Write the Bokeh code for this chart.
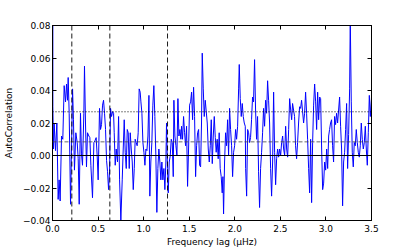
from bokeh.plotting import figure
from bokeh.models import Range1d, FixedTicker, CustomJSTickFormatter, LinearAxis, Span
from bokeh.embed import file_html
from bokeh.resources import INLINE

lag = [0.0, 0.004, 0.011, 0.018, 0.033, 0.048, 0.062, 0.073, 0.084, 0.099, 0.113, 0.128, 0.143, 0.154, 0.165,
       0.172, 0.183, 0.198, 0.220, 0.230, 0.241, 0.256, 0.271, 0.282, 0.293, 0.307, 0.318, 0.329, 0.344,
       0.351, 0.362, 0.373, 0.384, 0.399, 0.410, 0.421, 0.439, 0.454, 0.465, 0.479, 0.490, 0.501, 0.516,
       0.527, 0.538, 0.549, 0.560, 0.571, 0.582, 0.593, 0.604, 0.615, 0.626, 0.637, 0.648, 0.659, 0.670,
       0.677, 0.688, 0.699, 0.713,
       0.725, 0.736, 0.750, 0.765, 0.776, 0.787, 0.798, 0.809, 0.820, 0.831, 0.842, 0.853, 0.864, 0.875,
       0.886, 0.897, 0.907, 0.918, 0.929, 0.940, 0.951, 0.962, 0.970, 0.981, 0.992, 1.003, 1.014, 1.025,
       1.036, 1.047, 1.058, 1.068, 1.079, 1.090, 1.101, 1.112, 1.123, 1.134, 1.145, 1.156, 1.167, 1.178,
       1.189, 1.200, 1.211, 1.222, 1.233, 1.244, 1.251, 1.262, 1.270, 1.281, 1.292, 1.303, 1.314, 1.325,
       1.332, 1.343, 1.354, 1.365, 1.376, 1.387, 1.398, 1.409,
       1.416, 1.427, 1.438, 1.449, 1.460, 1.471, 1.482, 1.493, 1.504, 1.515, 1.526, 1.537, 1.548, 1.559,
       1.570, 1.581, 1.592, 1.603, 1.614, 1.625, 1.635, 1.643, 1.654, 1.665, 1.676, 1.687, 1.698, 1.709,
       1.720, 1.731, 1.742, 1.753, 1.764, 1.775, 1.786, 1.796, 1.807, 1.818, 1.829, 1.840, 1.851, 1.862,
       1.870, 1.877, 1.888, 1.899, 1.910, 1.921, 1.932, 1.943, 1.954, 1.965, 1.976, 1.987, 1.998, 2.009,
       2.020, 2.031, 2.042, 2.049, 2.060, 2.071, 2.082, 2.093, 2.104, 2.115,
       2.119, 2.130, 2.141, 2.152, 2.162, 2.173, 2.184, 2.195, 2.206, 2.217, 2.228, 2.239, 2.250, 2.261,
       2.272, 2.283, 2.294, 2.305, 2.316, 2.327, 2.338, 2.349, 2.360, 2.371, 2.382, 2.393, 2.404, 2.415,
       2.426, 2.437, 2.448, 2.459, 2.470, 2.481, 2.492, 2.503, 2.514, 2.525, 2.536, 2.547, 2.558, 2.569,
       2.580, 2.591, 2.602, 2.613, 2.624, 2.634, 2.645, 2.656, 2.667, 2.678, 2.689, 2.700, 2.711, 2.722,
       2.733, 2.744, 2.755, 2.766, 2.777, 2.788, 2.799, 2.810, 2.821,
       2.832, 2.843, 2.854, 2.865, 2.876, 2.887, 2.898, 2.909, 2.920, 2.931, 2.942, 2.953, 2.964, 2.975,
       2.986, 2.997, 3.008, 3.019, 3.030, 3.040, 3.051, 3.062, 3.073, 3.084, 3.095, 3.106, 3.117, 3.128,
       3.139, 3.150, 3.161, 3.172, 3.183, 3.194, 3.205, 3.216, 3.227, 3.238, 3.249, 3.260, 3.267, 3.278,
       3.289, 3.300, 3.311, 3.322, 3.333, 3.344, 3.355, 3.366, 3.377, 3.388, 3.399, 3.410, 3.421, 3.432,
       3.443, 3.454, 3.465, 3.476, 3.487, 3.500]

acf = [1.0, 0.030, 0.004, 0.020, 0.003, 0.020, -0.027, -0.015, -0.028, 0.012, 0.010, 0.043, 0.033, 0.044, 0.034,
       0.048, 0.026, -0.030, 0.041, 0.022, -0.009, 0.014, 0.008, -0.002, -0.030, 0.026, 0.001, -0.006, 0.026,
       0.055, 0.020, -0.007, 0.014, 0.012, 0.011, -0.006, -0.026, 0.008, 0.009, 0.011, 0.000, -0.015, 0.029,
       0.016, 0.019, 0.031, 0.034, 0.026, 0.016, -0.003, -0.010, -0.021, -0.010, 0.029, 0.024, 0.027, 0.026,
       0.014, -0.006, 0.004, -0.004,
       0.024, -0.015, -0.040, -0.015, 0.004, 0.022, 0.002, -0.008, 0.016, 0.014, -0.008, 0.014, 0.004, -0.004,
       -0.021, -0.008, 0.010, 0.008, 0.006, 0.014, 0.041, 0.039, 0.033, 0.026, 0.008, 0.002, -0.006, 0.004,
       0.003, 0.012, 0.037, -0.025, -0.004, 0.008, 0.031, 0.043, 0.024, 0.000, -0.035, -0.008, 0.004, -0.004,
       -0.015, -0.004, -0.015, -0.008, -0.021, -0.004, 0.020, -0.008, -0.023, -0.004, 0.000, 0.010, 0.008, -0.013,
       0.034, 0.012, 0.006, 0.000, 0.035, 0.012, 0.016, 0.010,
       0.018, 0.010, 0.024, 0.014, 0.006, 0.018, -0.019, 0.004, 0.031, 0.033, 0.039, 0.022, 0.042, 0.024,
       -0.013, 0.006, 0.014, 0.016, -0.006, -0.007, 0.020, 0.063, 0.041, 0.024, 0.034, 0.027, 0.020, 0.004,
       -0.004, 0.006, 0.022, -0.005, 0.012, 0.024, 0.011, 0.002, 0.010, -0.002, 0.014, -0.008, -0.013, -0.023,
       -0.013, -0.036, -0.004, 0.014, 0.006, 0.022, 0.000, 0.029, 0.016, 0.006, -0.013, 0.002, 0.006, 0.016,
       0.010, 0.018, 0.041, 0.056, 0.035, 0.024, 0.032, 0.024, 0.020, 0.018,
       -0.008, -0.025, 0.016, 0.014, 0.008, 0.011, 0.022, 0.036, 0.033, 0.059, 0.028, 0.010, 0.024, -0.010,
       -0.032, -0.008, 0.002, 0.014, 0.029, 0.018, 0.034, 0.026, 0.046, 0.034, 0.020, -0.008, -0.025, -0.004,
       0.039, 0.002, -0.018, -0.002, 0.004, -0.001, 0.004, 0.000, 0.008, 0.012, 0.004, 0.000, 0.018, 0.004,
       -0.001, 0.016, 0.035, 0.028, 0.022, 0.032, 0.028, 0.024, 0.006, -0.002, 0.008, 0.020, 0.030, 0.029,
       0.034, 0.027, 0.020, 0.026, 0.039, 0.026, 0.010, -0.008, -0.023,
       0.010, -0.029, 0.008, 0.031, 0.044, 0.033, 0.016, 0.039, 0.022, 0.036, 0.035, 0.004, -0.021, -0.017,
       -0.004, -0.009, 0.004, -0.008, 0.012, 0.016, 0.020, 0.022, 0.006, -0.004, 0.024, 0.019, 0.026, 0.020,
       0.028, 0.036, 0.018, 0.004, -0.031, -0.004, 0.002, 0.016, 0.032, -0.008, 0.013, 0.041, 0.085, 0.033,
       0.002, -0.007, 0.008, 0.006, 0.016, 0.008, 0.002, -0.001, 0.006, 0.020, 0.010, 0.004, 0.008, 0.018,
       0.004, -0.006, 0.014, 0.037, 0.024, 0.036]

x_ticks = [0.0, 0.5, 1.0, 1.5, 2.0, 2.5, 3.0, 3.5]
y_ticks = [-0.04, -0.02, 0.0, 0.02, 0.04, 0.06, 0.08]
v_lines = [0.212, 0.629, 1.262]
threshold_dotted = 0.0269
threshold_dashed = 0.0084

FONT = "DejaVu Sans"
FS = "9px"

p = figure(width=395, height=244, output_backend="svg", toolbar_location=None,
           x_range=Range1d(0, 3.5), y_range=Range1d(-0.04, 0.08),
           min_border_left=43, min_border_right=25, min_border_top=25, min_border_bottom=24,
           frame_width=319, frame_height=195)
p.background_fill_color = "white"
p.border_fill_color = "white"
p.outline_line_color = "black"
p.outline_line_width = 1
p.xgrid.visible = False
p.ygrid.visible = False

p.line(lag, acf, line_color="blue", line_width=1)

p.add_layout(Span(location=0.0, dimension="width", line_color="black", line_width=1))
p.add_layout(Span(location=threshold_dotted, dimension="width", line_color="black",
                  line_width=1, line_dash="1 2"))
p.add_layout(Span(location=threshold_dashed, dimension="width", line_color="#444444",
                  line_width=0.8, line_dash="4 2"))
for v in v_lines:
    p.add_layout(Span(location=v, dimension="height", line_color="black",
                      line_width=0.9, line_dash="5 3"))

def style(ax, ticks):
    ax.ticker = FixedTicker(ticks=ticks)
    ax.axis_line_color = "black"
    ax.major_tick_line_color = "black"
    ax.major_tick_in = 4
    ax.major_tick_out = 0
    ax.minor_tick_in = 0
    ax.minor_tick_out = 0
    ax.major_label_text_font = FONT
    ax.major_label_text_font_size = FS
    ax.axis_label_text_font = FONT
    ax.axis_label_text_font_size = FS
    ax.axis_label_text_font_style = "normal"
    ax.axis_label_text_color = "black"
    ax.major_label_text_color = "black"

style(p.xaxis[0], x_ticks)
style(p.yaxis[0], y_ticks)
p.xaxis[0].formatter = CustomJSTickFormatter(code="return tick.toFixed(1);")
p.yaxis[0].formatter = CustomJSTickFormatter(
    code="return (tick < -1e-9 ? '\u2212' : '') + Math.abs(tick).toFixed(2);")
p.xaxis[0].axis_label = "Frequency lag (\u03bcHz)"
p.yaxis[0].axis_label = "AutoCorrelation"
p.xaxis[0].major_label_standoff = 4
p.xaxis[0].axis_label_standoff = 2
p.yaxis[0].major_label_standoff = 2
p.yaxis[0].axis_label_standoff = 6

top = LinearAxis()
right = LinearAxis()
for ax, t in ((top, x_ticks), (right, y_ticks)):
    style(ax, t)
    ax.formatter = CustomJSTickFormatter(code="return '';")
    ax.major_label_standoff = 0
p.add_layout(top, "above")
p.add_layout(right, "right")

open("out.html", "w").write(file_html(p, INLINE))
